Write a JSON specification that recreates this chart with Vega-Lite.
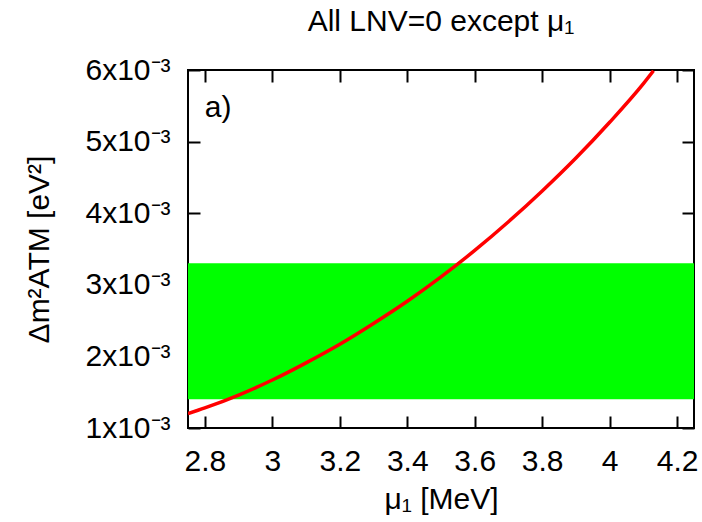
{
  "$schema": "https://vega.github.io/schema/vega-lite/v6.json",
  "width": 506,
  "height": 358,
  "autosize": {"type": "none"},
  "padding": {"left": 188, "top": 70, "right": 8, "bottom": 94},
  "background": "white",
  "title": {
    "text": "All LNV=0 except μ₁",
    "font": "Liberation Sans",
    "fontSize": 30,
    "fontWeight": "normal",
    "color": "black",
    "anchor": "middle",
    "offset": 18
  },
  "config": {
    "view": {"stroke": "black", "strokeWidth": 2},
    "axis": {
      "grid": false,
      "domain": false,
      "tickColor": "black",
      "tickWidth": 2,
      "tickSize": -12,
      "labelFont": "Liberation Sans",
      "labelFontSize": 30,
      "labelColor": "black",
      "titleFont": "Liberation Sans",
      "titleFontSize": 30,
      "titleFontWeight": "normal",
      "titleColor": "black"
    }
  },
  "layer": [
    {
      "data": {"values": [{"lo": 0.0014, "hi": 0.0033}]},
      "mark": {"type": "rect", "color": "#00ff00"},
      "encoding": {
        "y": {"field": "lo", "type": "quantitative", "scale": {"domain": [0.001, 0.006], "nice": false, "zero": false}, "axis": null},
        "y2": {"field": "hi"}
      }
    },
    {
      "data": {"values": [
        {"mu": 2.75, "dm2": 0.00120},
        {"mu": 2.8, "dm2": 0.00128},
        {"mu": 2.9, "dm2": 0.00146},
        {"mu": 3.0, "dm2": 0.00167},
        {"mu": 3.1, "dm2": 0.00191},
        {"mu": 3.2, "dm2": 0.00217},
        {"mu": 3.3, "dm2": 0.00246},
        {"mu": 3.4, "dm2": 0.00277},
        {"mu": 3.5, "dm2": 0.00311},
        {"mu": 3.6, "dm2": 0.00348},
        {"mu": 3.7, "dm2": 0.00388},
        {"mu": 3.8, "dm2": 0.00431},
        {"mu": 3.9, "dm2": 0.00477},
        {"mu": 4.0, "dm2": 0.00527},
        {"mu": 4.1, "dm2": 0.00581},
        {"mu": 4.13, "dm2": 0.00599}
      ]},
      "mark": {"type": "line", "color": "#ff0000", "strokeWidth": 3.5, "clip": true, "interpolate": "monotone"},
      "encoding": {
        "x": {
          "field": "mu", "type": "quantitative",
          "scale": {"domain": [2.75, 4.25], "nice": false, "zero": false},
          "axis": {
            "orient": "bottom",
            "title": "μ₁ [MeV]",
            "values": [2.8, 3, 3.2, 3.4, 3.6, 3.8, 4, 4.2],
            "labelExpr": "'' + datum.value",
            "labelPadding": 30,
            "titlePadding": 8
          }
        },
        "y": {
          "field": "dm2", "type": "quantitative",
          "scale": {"domain": [0.001, 0.006], "nice": false, "zero": false},
          "axis": {
            "orient": "left",
            "title": "Δm²ATM [eV²]",
            "values": [0.001, 0.002, 0.003, 0.004, 0.005, 0.006],
            "labelExpr": "round(datum.value * 1000) + 'x10⁻³'",
            "labelPadding": 30,
            "titlePadding": 30
          }
        }
      }
    },
    {
      "data": {"values": [{"mu": 2.8, "dm2": 0.00547, "label": "a)"}]},
      "mark": {"type": "text", "font": "Liberation Sans", "fontSize": 30, "align": "left", "baseline": "middle", "color": "black"},
      "encoding": {
        "x": {
          "field": "mu", "type": "quantitative",
          "scale": {"domain": [2.75, 4.25], "nice": false, "zero": false},
          "axis": {"orient": "top", "title": null, "labels": false, "values": [2.8, 3, 3.2, 3.4, 3.6, 3.8, 4, 4.2]}
        },
        "y": {
          "field": "dm2", "type": "quantitative",
          "scale": {"domain": [0.001, 0.006], "nice": false, "zero": false},
          "axis": {"orient": "right", "title": null, "labels": false, "values": [0.001, 0.002, 0.003, 0.004, 0.005, 0.006]}
        },
        "text": {"field": "label"}
      }
    }
  ],
  "resolve": {"axis": {"x": "independent", "y": "independent"}}
}
